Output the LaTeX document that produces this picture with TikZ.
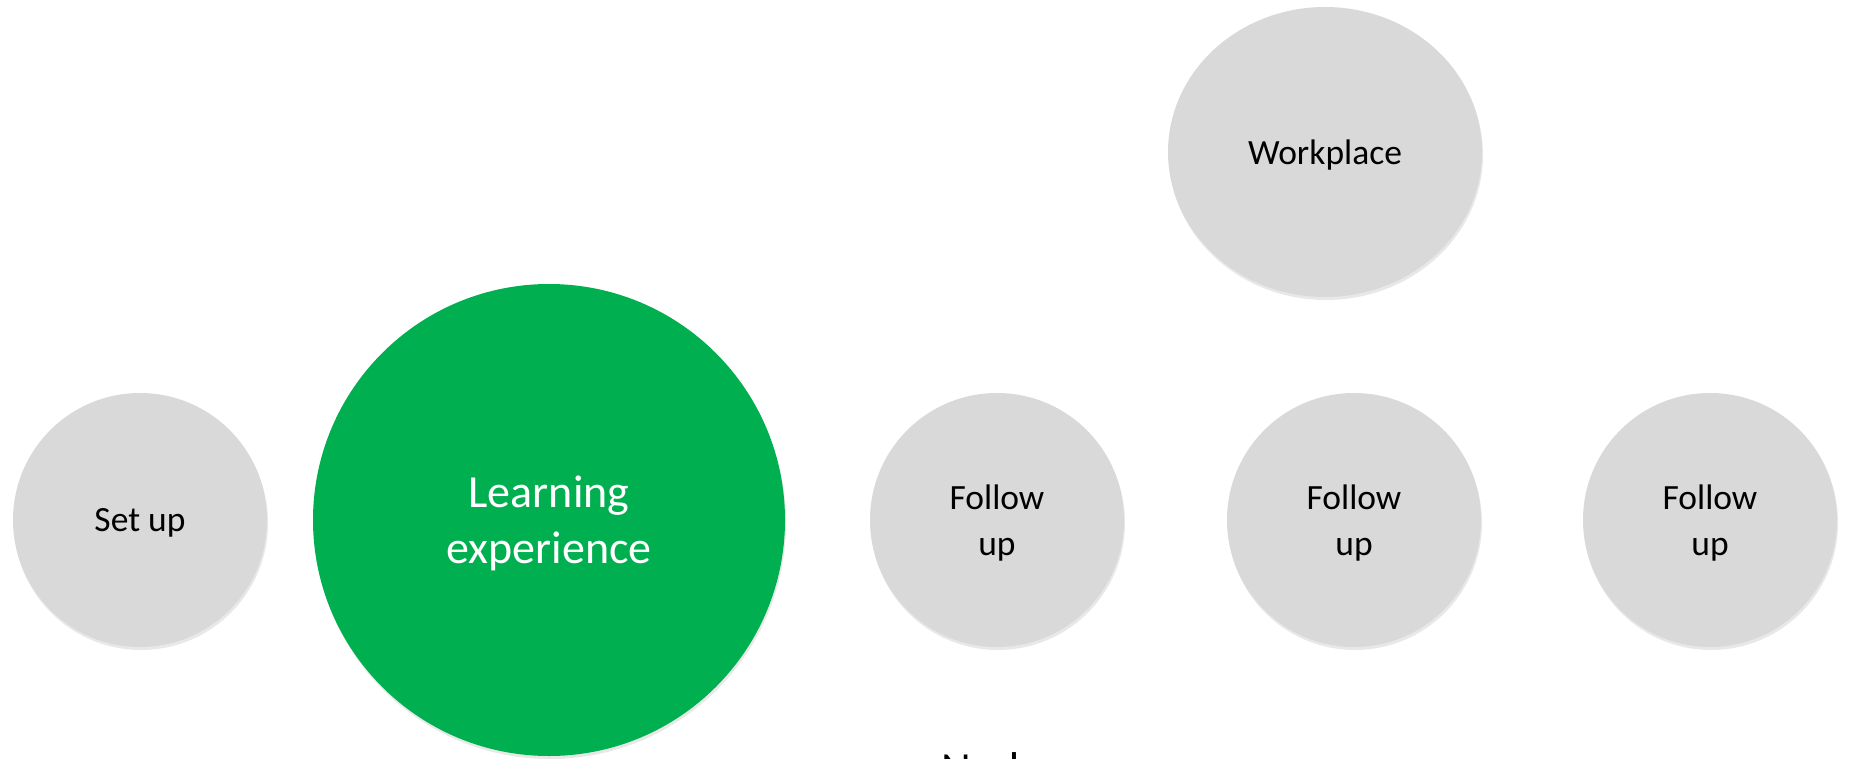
\documentclass[tikz,border=0pt]{standalone}
\usepackage{fontspec}
\setmainfont{Carlito}
\usetikzlibrary{shapes.geometric, shadows}

\definecolor{bubblegrey}{HTML}{D9D9D9}
\definecolor{bubblegreen}{HTML}{00B050}

\begin{document}
\begin{tikzpicture}[x=1pt, y=-1pt,
  bubble/.style={circle, fill=bubblegrey, inner sep=0pt, minimum size=254pt, align=center,
    text depth=0pt, font=\fontsize{35.5}{46}\selectfont,
    drop shadow={opacity=0.18, shadow xshift=1pt, shadow yshift=-3pt}},
  bigbubble/.style={bubble, fill=bubblegreen, text=white, minimum size=472pt,
    font=\fontsize{46}{56}\selectfont}]
%Rahmen
\clip (0,0) rectangle (1849,759);

%Knoten
\node (setup) [bubble] at (140,520) {Set up};
\node (learn) [bigbubble] at (549,520) {Learning\\experience};
\node (follow1) [bubble] at (997,520) {Follow\\up};
\node (follow2) [bubble] at (1354,520) {Follow\\up};
\node (follow3) [bubble] at (1710,520) {Follow\\up};
\node (work) [bubble, ellipse, minimum width=314pt, minimum height=290pt] at (1325,152) {Workplace};

%Beschriftung unten
\node (nudges) [anchor=base, font=\fontsize{46}{56}\selectfont] at (1012,784) {Nudges};
\end{tikzpicture}
\end{document}
